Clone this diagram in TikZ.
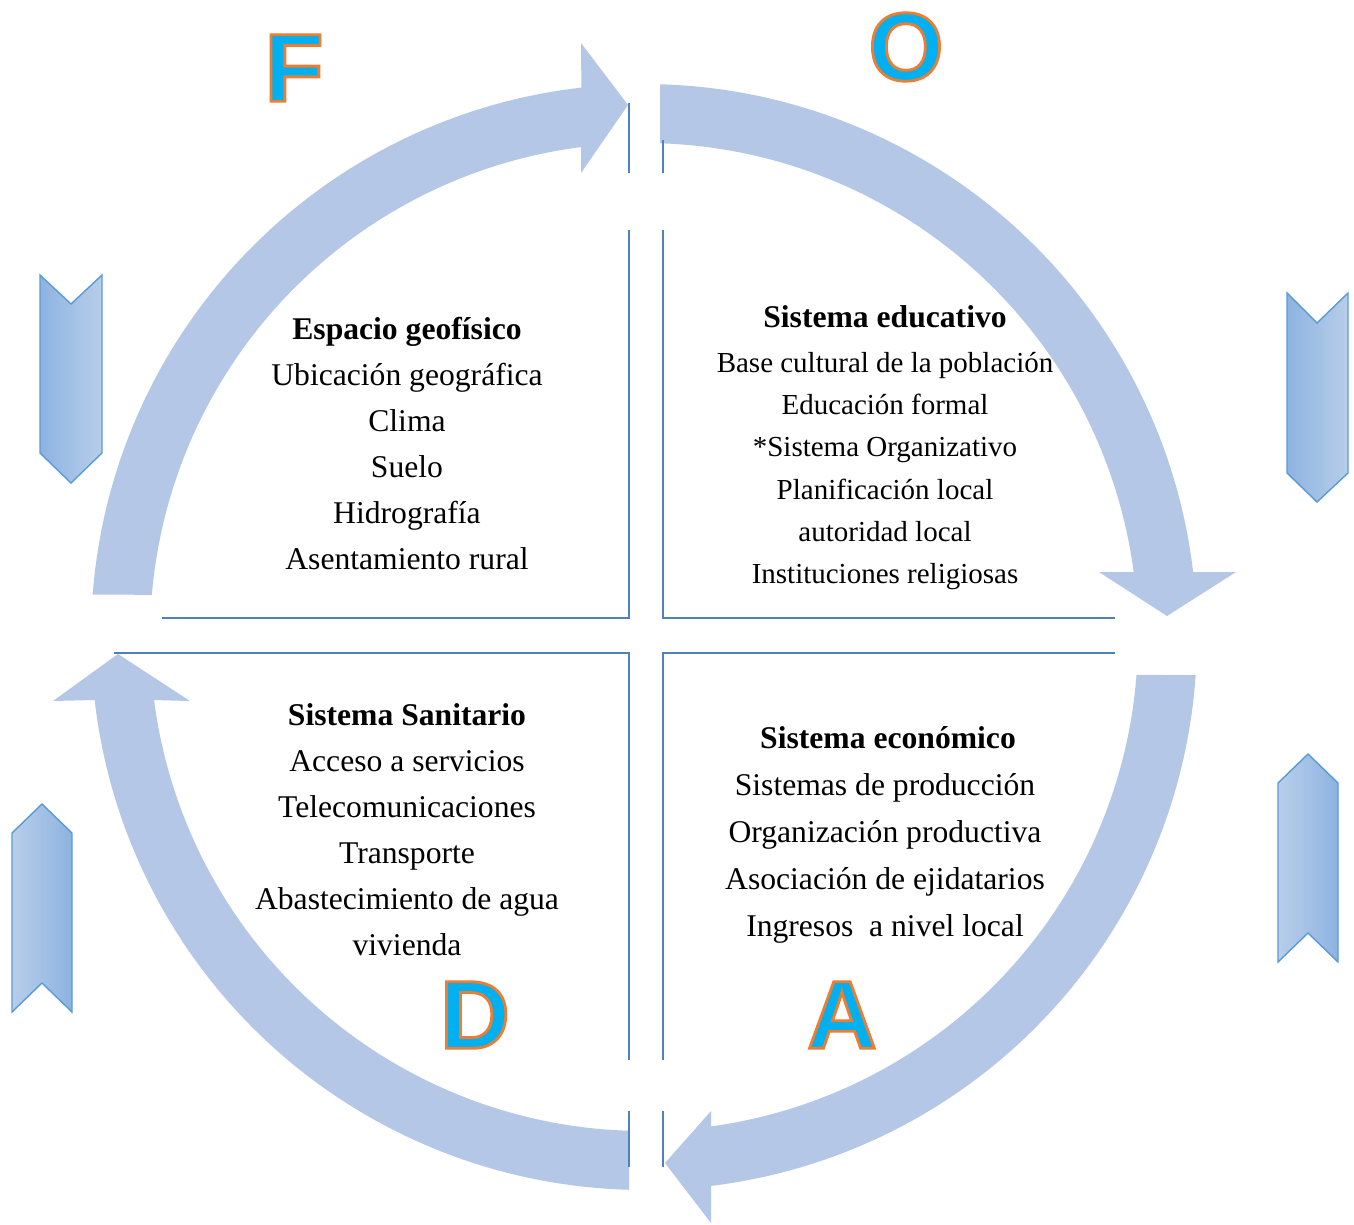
\documentclass[tikz,border=0pt]{standalone}
\usepackage{fontspec}
\setmainfont{Liberation Serif}
\newfontfamily\bigletters{Liberation Sans}
\definecolor{arrowfill}{HTML}{B4C7E7}
\definecolor{quadblue}{HTML}{4F81BD}
\definecolor{chevdark}{HTML}{8DB3E2}
\definecolor{chevlight}{HTML}{B8CEE9}
\definecolor{chevborder}{HTML}{5B9BD5}
\definecolor{lettercyan}{HTML}{00B0F0}
\newcommand{\outlined}[1]{\special{pdf:literal 2 Tr 1.6 w 0.929 0.490 0.192 RG}#1\special{pdf:literal 0 Tr 0.4 w 0 0 0 RG}}
\begin{document}
\begin{tikzpicture}[x=0.02cm,y=-0.02cm,
  ringarrow/.style={fill=arrowfill,draw=none},
  quadline/.style={draw=quadblue,line width=1.2pt},
  chevdown/.style={draw=chevborder,line width=0.8pt,left color=chevdark,right color=chevlight},
  chevup/.style={draw=chevborder,line width=0.8pt,left color=chevlight,right color=chevdark},
  bigletter/.style={font=\bigletters\bfseries\fontsize{55}{60}\selectfont,text=lettercyan,inner sep=0pt},
  bodytext/.style={anchor=base,inner sep=0pt,font=\fontsize{18}{22}\selectfont},
  smalltext/.style={anchor=base,inner sep=0pt,font=\fontsize{16.5}{20}\selectfont},
  headtext/.style={anchor=base,inner sep=0pt,font=\bfseries\fontsize{18}{22}\selectfont}]
\useasboundingbox (0,0) rectangle (1354,1224);
\fill[white] (0,0) rectangle (1354,1224);

% ring arrows
\fill[ringarrow] plot[domain=184.4:263.5,samples=80] ({644+553*cos(\x)},{637+553*sin(\x)})
  -- (581,43) -- (628,105) -- (581,173)
  -- plot[domain=262.7:184.9,samples=80] ({644+494*cos(\x)},{637+494*sin(\x)}) -- cycle;
\fill[ringarrow] plot[domain=271.66:353.25,samples=80] ({644+553*cos(\x)},{637+553*sin(\x)})
  -- (1236,572) -- (1167,616) -- (1099,572)
  -- plot[domain=352.44:271.86,samples=80] ({644+494*cos(\x)},{637+494*sin(\x)}) -- cycle;
\fill[ringarrow] plot[domain=3.94:83.04,samples=80] ({644+553*cos(\x)},{637+553*sin(\x)})
  -- (711,1223) -- (665,1163) -- (711,1111)
  -- plot[domain=82.2:4.41,samples=80] ({644+494*cos(\x)},{637+494*sin(\x)}) -- cycle;
\fill[ringarrow] plot[domain=91.55:173.46,samples=80] ({644+553*cos(\x)},{637+553*sin(\x)})
  -- (53,701) -- (118,654) -- (190,701)
  -- plot[domain=172.67:91.74,samples=80] ({644+494*cos(\x)},{637+494*sin(\x)}) -- cycle;

% quadrant lines
\draw[quadline] (629,103) -- (629,173);
\draw[quadline] (629,230) -- (629,618) -- (162,618);
\draw[quadline] (663,140) -- (663,173);
\draw[quadline] (663,230) -- (663,618) -- (1115,618);
\draw[quadline] (114,653) -- (629,653) -- (629,1060);
\draw[quadline] (629,1111) -- (629,1167);
\draw[quadline] (1115,653) -- (663,653) -- (663,1060);
\draw[quadline] (663,1111) -- (663,1167);

% chevrons
\draw[chevdown] (40,275) -- (71,304) -- (102,275) -- (102,453) -- (71,483) -- (40,453) -- cycle;
\draw[chevdown] (1287,293) -- (1317,323) -- (1348,293) -- (1348,473) -- (1317,502) -- (1287,473) -- cycle;
\draw[chevup] (12,833) -- (42,804) -- (72,833) -- (72,1012) -- (42,983) -- (12,1012) -- cycle;
\draw[chevup] (1278,783) -- (1308,754) -- (1338,783) -- (1338,962) -- (1308,933) -- (1278,962) -- cycle;

% top-left block
\node[headtext] (tl0) at (407,339) {Espacio geofísico};
\foreach [count=\i] \t in {Ubicación geográfica,Clima,Suelo,Hidrografía,Asentamiento rural}
  \node[bodytext] (tl\i) at (407,{339+46*\i}) {\t};

% top-right block
\node[headtext] (tr0) at (885,327) {Sistema educativo};
\foreach [count=\i] \t in {Base cultural de la población,Educación formal,*Sistema Organizativo,Planificación local,autoridad local,Instituciones religiosas}
  \node[smalltext] (tr\i) at (885,{330+42.3*\i}) {\t};

% bottom-left block
\node[headtext] (bl0) at (407,725) {Sistema Sanitario};
\foreach [count=\i] \t in {Acceso a servicios,Telecomunicaciones,Transporte,Abastecimiento de agua,vivienda}
  \node[bodytext] (bl\i) at (407,{725+46*\i}) {\t};

% bottom-right block
\node[headtext] (br0) at (888,748) {Sistema económico};
\foreach [count=\i] \t in {Sistemas de producción,Organización productiva,Asociación de ejidatarios,Ingresos\ \ a nivel local}
  \node[bodytext] (br\i) at (885,{748+47*\i}) {\t};

% letters
\node[bigletter] (F) at (294,68) {\outlined{F}};
\node[bigletter] (O) at (906,47) {\outlined{O}};
\node[bigletter] (D) at (475,1015) {\outlined{D}};
\node[bigletter] (A) at (842,1015) {\outlined{A}};
\end{tikzpicture}
\end{document}
